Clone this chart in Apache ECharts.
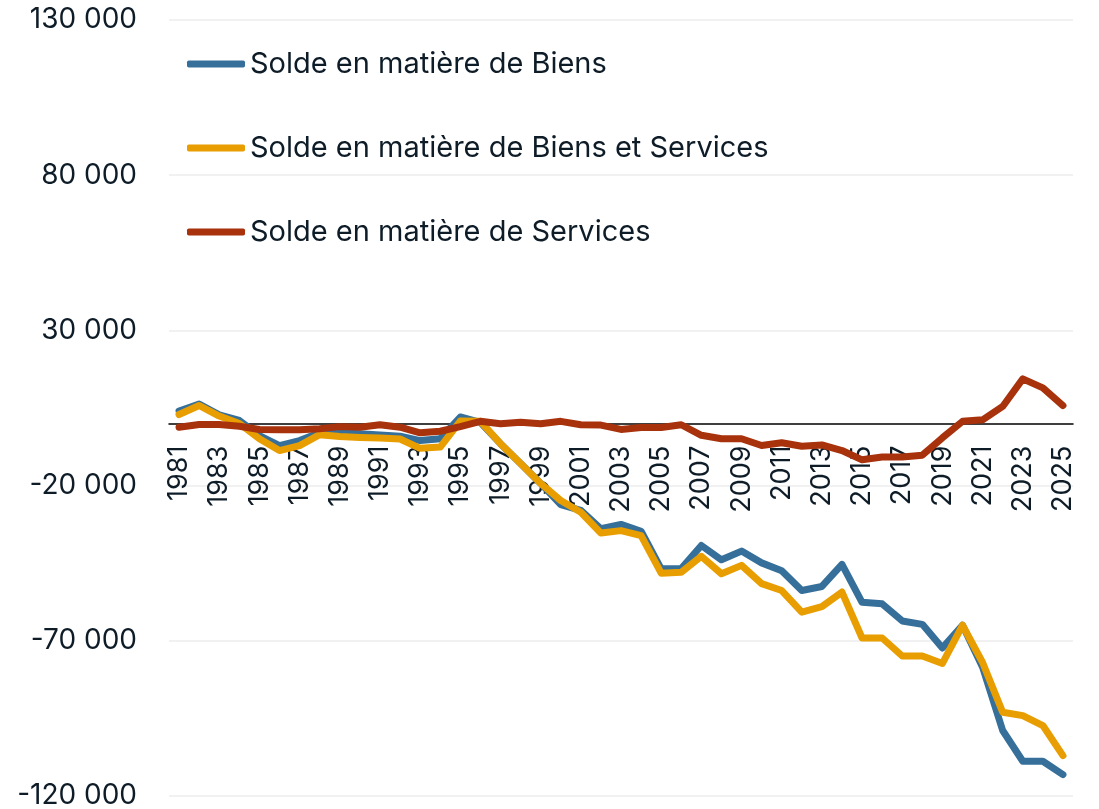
<!DOCTYPE html>
<html>
<head>
<meta charset="utf-8">
<script src="https://cdn.jsdelivr.net/npm/echarts@6/dist/echarts.min.js"></script>
<style>
  html, body { margin: 0; padding: 0; background: #fff; }
  #chart { width: 1099px; height: 809px; }
</style>
</head>
<body>
<div id="chart"></div>
<script>
// annees (axe des x)
const years = [
  '1981', '1982', '1983', '1984', '1985', '1986', '1987', '1988', '1989', '1990',
  '1991', '1992', '1993', '1994', '1995', '1996', '1997', '1998', '1999', '2000',
  '2001', '2002', '2003', '2004', '2005', '2006', '2007', '2008', '2009', '2010',
  '2011', '2012', '2013', '2014', '2015', '2016', '2017', '2018', '2019', '2020',
  '2021', '2022', '2023', '2024', '2025'
];

const seriesNames = [
  'Solde en matière de Biens',
  'Solde en matière de Biens et Services',
  'Solde en matière de Services'
];

const biens = [
  4000, 6300, 2800, 1000, -3900, -7100, -5500, -3000, -3000, -3300,
  -3700, -4100, -5500, -4900, 2100, 400, -6500, -12900, -19300, -26100,
  -28000, -33900, -32500, -34700, -46800, -46700, -39300, -43900, -41100, -44900,
  -47400, -53800, -52500, -45400, -57600, -58100, -63600, -64700, -72300, -65000,
  -78500, -98900, -108800, -108800, -113100
];

const biensServices = [
  2900, 5800, 2400, 0, -4900, -8700, -7100, -3600, -4200, -4500,
  -4700, -5000, -8000, -7600, 800, 700, -6500, -12900, -19300, -24800,
  -28600, -35300, -34500, -36100, -48200, -47900, -42800, -48400, -45700, -51600,
  -53800, -60800, -59000, -54300, -69100, -69100, -74900, -74900, -77300, -65000,
  -77000, -93000, -94100, -97300, -107000
];

const services = [
  -1200, -300, -300, -900, -1900, -2000, -2000, -1700, -1000, -1200,
  -400, -1200, -3000, -2500, -1000, 700, -100, 400, -100, 700,
  -400, -500, -1900, -1300, -1300, -400, -3800, -4900, -4900, -7100,
  -6200, -7300, -6900, -8700, -11700, -10800, -10800, -10200, -4600, 700,
  1200, 5500, 14400, 11500, 5800
];

const yMin = -120000;
const yMax = 130000;

const colors = ['#36709a', '#e89e00', '#a8320c'];
const textColor = '#0e1c28';
const fontFamily = 'Inter, "Open Sans", sans-serif';

const gridTop = 20;
const gridBottom = 13;
const chartH = 809;

let myChart = echarts.init(document.getElementById('chart'));

function fmt(v) {
  // separateur de milliers avec espace
  let s = Math.abs(v).toString().replace(/\B(?=(\d{3})+(?!\d))/g, ' ');
  return (v < 0 ? '-' : '') + s;
}

// decalage de l'axe x pour qu'il passe par zero (etiquettes comprises)
const plotH = chartH - gridTop - gridBottom;
const zeroOffset = -plotH * (0 - yMin) / (yMax - yMin);

function lineSeries(name, data) {
  return {
    name: name,
    type: 'line',
    data: data,
    z: 10,
    showSymbol: false,
    lineStyle: { width: 7, cap: 'round', join: 'round' }
  };
}

let option = {
  animation: false,
  color: colors,
  textStyle: { fontFamily: fontFamily },
  legend: {
    orient: 'vertical',
    left: 187,
    top: 48,
    padding: 0,
    icon: 'roundRect',
    itemWidth: 58,
    itemHeight: 7,
    itemGap: 52,
    data: seriesNames,
    textStyle: { color: textColor, fontSize: 29, lineHeight: 32, fontFamily: fontFamily }
  },
  grid: {
    left: 169,
    right: 26,
    top: gridTop,
    bottom: gridBottom,
    containLabel: false,
    outerBoundsMode: 'none'
  },
  xAxis: {
    type: 'category',
    boundaryGap: true,
    data: years,
    position: 'bottom',
    offset: zeroOffset,
    z: 0,
    axisLine: { onZero: false, lineStyle: { color: '#000', width: 1.5 } },
    axisTick: { show: false },
    axisLabel: {
      interval: 1,
      rotate: 90,
      margin: 22,
      color: textColor,
      fontSize: 27,
      fontFamily: fontFamily
    }
  },
  yAxis: {
    type: 'value',
    min: yMin,
    max: yMax,
    interval: 50000,
    z: 0,
    axisLine: { show: false },
    axisTick: { show: false },
    splitLine: { lineStyle: { color: '#ececec', width: 1.5 } },
    axisLabel: {
      margin: 32,
      color: textColor,
      fontSize: 28,
      fontFamily: fontFamily,
      formatter: fmt
    }
  },
  series: [
    lineSeries(seriesNames[0], biens),
    lineSeries(seriesNames[1], biensServices),
    lineSeries(seriesNames[2], services)
  ]
};

myChart.setOption(option);
</script>
</body>
</html>
